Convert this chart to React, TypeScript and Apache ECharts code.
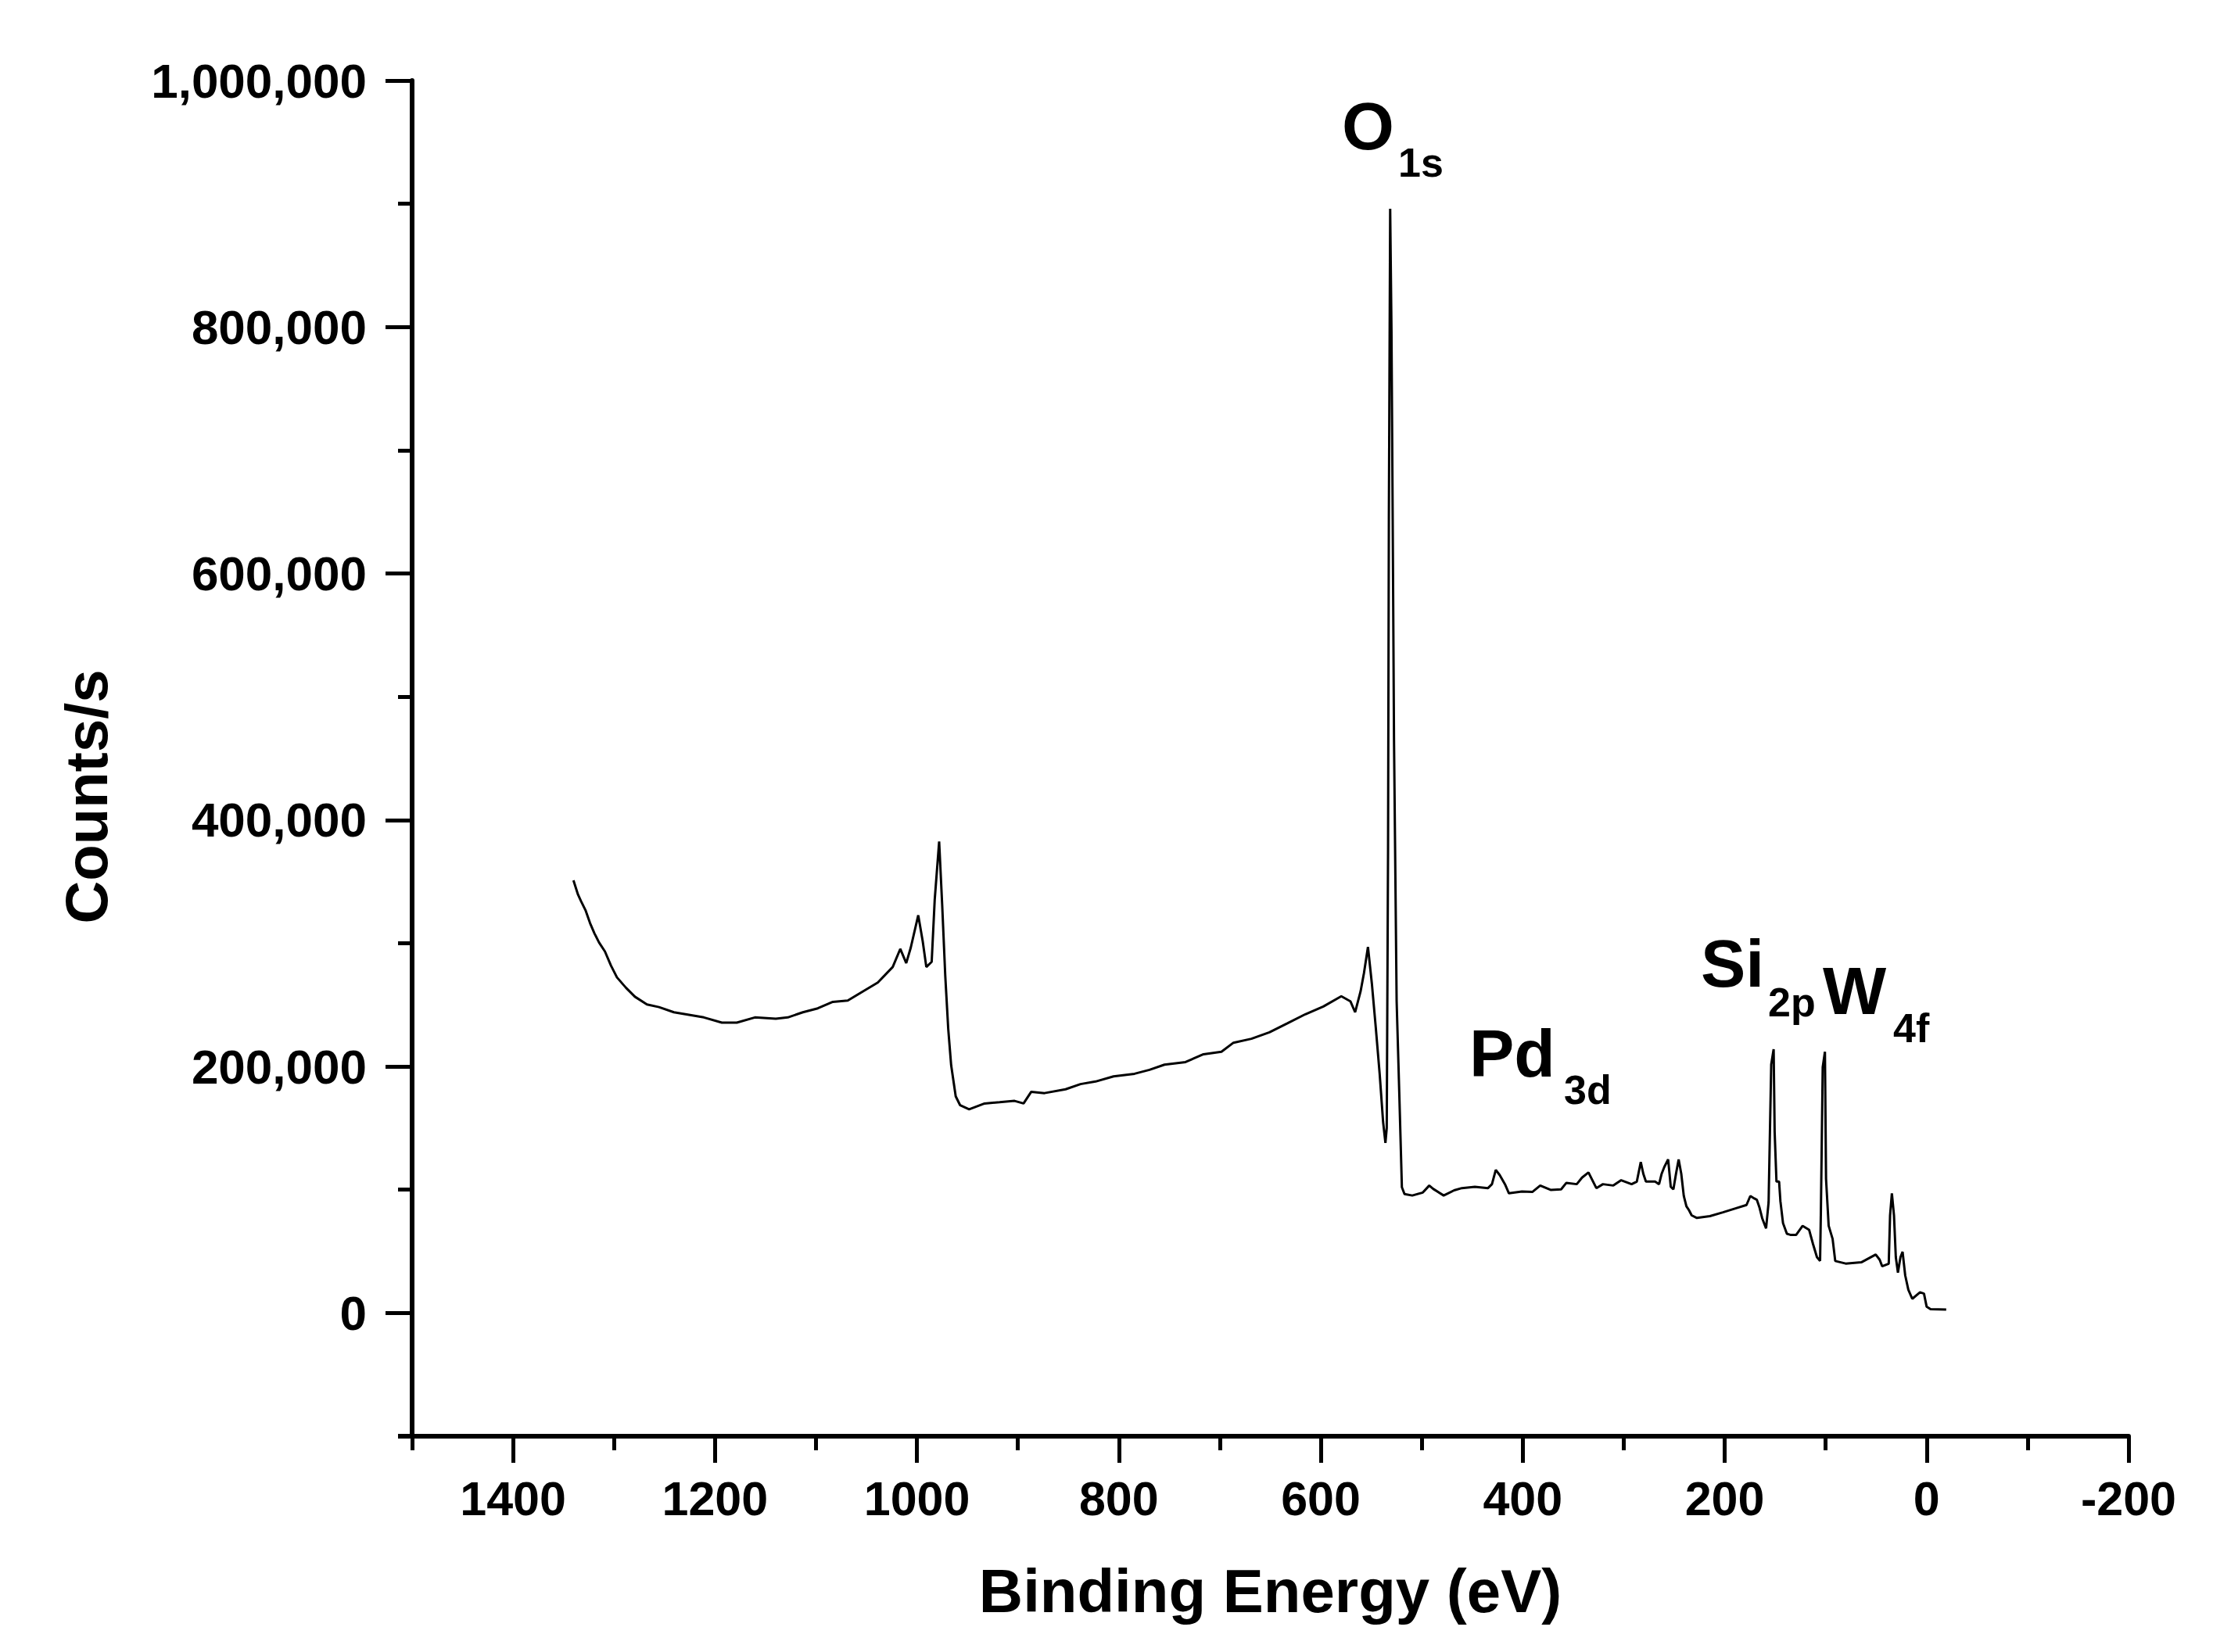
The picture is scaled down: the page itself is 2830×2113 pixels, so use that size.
import React, { useEffect, useRef } from "react";
import * as echarts from "echarts";

// Binding energy (eV) and count rate (counts/s)
const energy = [
  1340.2, 1335.7, 1332.7, 1328.3, 1323.8, 1319.4, 1314.9, 1309, 1303, 1297.1,
  1288.2, 1279.3, 1267.4, 1255.5, 1240.7, 1225.8, 1211, 1193.2, 1178.4, 1160.5,
  1139.8, 1127.9, 1113, 1098.2, 1083.3, 1068.5, 1053.7, 1038.8, 1024, 1016.5,
  1010.6, 1006.1, 998.7, 994.3, 990.7, 985.4, 982.4, 978, 975, 972,
  969, 966.1, 961.6, 957.2, 948.3, 933, 918.1, 903.3, 894.4, 886.9,
  873.6, 852.8, 838, 823.1, 805.3, 784.5, 769.7, 754.8, 734, 716.2,
  698.4, 686.5, 668.7, 650.9, 633.1, 615.3, 597.5, 579.7, 570.7, 566,
  560.6, 557.2, 553.3, 549.4, 545.6, 541.7, 538.3, 536, 534.7, 533.4,
  532.6, 531.3, 530, 528.8, 527.5, 524.9, 522.3, 519.7, 517.1, 509.4,
  499, 492.6, 488.7, 478.3, 468, 460.3, 447.4, 434.4, 430.5, 426.7,
  422.8, 417.6, 413.7, 400.8, 390.5, 382.7, 372.4, 362, 356.8, 346.5,
  341.3, 334.9, 331, 327.1, 320.6, 310.3, 302.5, 292.2, 287, 283.1,
  280.6, 278, 268.9, 265, 262.4, 259.9, 256, 253.4, 250.8, 248.2,
  245.6, 243, 240.5, 237.9, 235.3, 232.7, 227.5, 214.6, 201.7, 188.7,
  178.4, 174.6, 170.6, 168.1, 165.5, 162.9, 159, 156.5, 153.9, 151.5,
  150.5, 148.7, 146.1, 144.8, 142.2, 138.4, 134.5, 129.3, 122.8, 116.4,
  112.5, 108.6, 105.5, 104.7, 102.9, 100.7, 99.6, 97, 93.1, 90.5,
  80.2, 64.7, 50.4, 46.5, 44, 37.5, 36.2, 34.4, 32.3, 30.5,
  28.4, 25.9, 23.8, 21.2, 18.1, 14.2, 6.5, 2.6, 0, -3.9,
  -19.4,
];

const counts = [
  351000, 339500, 334200, 326900, 316400, 308000, 300700, 293300, 281800, 272300,
  263900, 256600, 250300, 248200, 244000, 241900, 239800, 235600, 235600, 239800,
  238800, 239800, 244000, 247200, 252400, 253500, 260800, 268100, 280700, 295400,
  283900, 296500, 322700, 301700, 280700, 284900, 335300, 382500, 331100, 274400,
  230400, 201000, 175800, 168500, 165300, 170000, 171000, 172100, 170000, 179400,
  178400, 181500, 185700, 187800, 192000, 194100, 197300, 201500, 203600, 209900,
  212000, 219300, 222500, 227700, 235000, 242400, 248700, 257000, 252900, 244000,
  261000, 276000, 297000, 267000, 232000, 194000, 155000, 138000, 150000, 376000,
  644000, 896000, 797000, 644000, 465000, 253000, 179000, 102000, 96500, 95300,
  97700, 103400, 100700, 95300, 99500, 101300, 102400, 101300, 104500, 116100,
  111900, 104500, 97100, 98600, 98200, 103400, 99900, 100300, 105600, 104500,
  109800, 114000, 107700, 101300, 104500, 103400, 107700, 104500, 106600, 122500,
  113000, 106600, 106600, 104500, 113000, 118200, 124600, 102400, 100300, 113000,
  124600, 113000, 95000, 86600, 83300, 79200, 77100, 78600, 81700, 85000,
  87600, 94900, 92900, 91800, 85500, 77000, 68600, 89700, 201600, 214000,
  146700, 106600, 106600, 90700, 72800, 64300, 63300, 63300, 70700, 67500,
  55900, 45300, 42200, 83300, 199500, 212000, 108700, 70700, 60100, 42200,
  40100, 41100, 47400, 43200, 37900, 40000, 79100, 97100, 79100, 45300,
  32700, 45300, 49600, 30500, 18900, 11500, 16800, 15700, 5200, 3100,
  2700,
];

// Axis ticks and labels
const xMajorTicks = [1400, 1200, 1000, 800, 600, 400, 200, 0, -200];
const xMinorTicks = [1500, 1300, 1100, 900, 700, 500, 300, 100, -100];
const yMajorTicks = [0, 200000, 400000, 600000, 800000, 1000000];
const yMinorTicks = [100000, 300000, 500000, 700000, 900000];

// Peak annotations: element symbol and orbital subscript
const peakLabels = ["O", "Pd", "Si", "W"];
const peakOrbitals = ["1s", "3d", "2p", "4f"];

const FONT = "'Liberation Sans', Arial, sans-serif";

export default function App() {
  const ref = useRef<HTMLDivElement>(null);

  useEffect(() => {
    if (!ref.current) return;
    const chart = echarts.init(ref.current, undefined, { renderer: "svg" });

    const data = energy.map((e, i) => [e, counts[i]]);

    const gridLeft = 527;
    const gridTop = 103;
    const gridWidth = 2195;
    const gridHeight = 1734;

    // layout of annotation labels (pixel positions of main text and subscript)
    const mainPos = [
      [1716, 161],
      [1879, 1347],
      [2175, 1232],
      [2331, 1267],
    ];
    const subPos = [
      [1788, 208],
      [2000, 1394],
      [2261, 1282],
      [2421, 1315],
    ];

    const graphics: any[] = [];
    peakLabels.forEach((lab, i) => {
      graphics.push({
        type: "text",
        x: mainPos[i][0],
        y: mainPos[i][1],
        style: {
          text: lab,
          fontSize: 86,
          fontWeight: "bold",
          fontFamily: FONT,
          fill: "#000",
          align: "left",
          verticalAlign: "middle",
        },
      });
      graphics.push({
        type: "text",
        x: subPos[i][0],
        y: subPos[i][1],
        style: {
          text: peakOrbitals[i],
          fontSize: 52,
          fontWeight: "bold",
          fontFamily: FONT,
          fill: "#000",
          align: "left",
          verticalAlign: "middle",
        },
      });
    });

    graphics.push({
      type: "text",
      x: 110,
      y: 1019,
      rotation: Math.PI / 2,
      style: {
        text: "Counts/s",
        fontSize: 76,
        fontWeight: "bold",
        fontFamily: FONT,
        fill: "#000",
        align: "center",
        verticalAlign: "middle",
      },
    });

    // small overhang of the x axis line to the left of the y axis
    graphics.push({
      type: "line",
      shape: { x1: gridLeft - 18, y1: gridTop + gridHeight, x2: gridLeft, y2: gridTop + gridHeight },
      style: { stroke: "#000", lineWidth: 6 },
    });

    const xBase = {
      type: "value" as const,
      min: -200,
      max: 1500,
      inverse: true,
      position: "bottom" as const,
      splitLine: { show: false },
    };
    const yBase = {
      type: "value" as const,
      min: -100000,
      max: 1000000,
      position: "left" as const,
      splitLine: { show: false },
    };

    chart.setOption({
      animation: false,
      backgroundColor: "#fff",
      grid: { left: gridLeft, top: gridTop, width: gridWidth, height: gridHeight, containLabel: false },
      xAxis: [
        {
          ...xBase,
          axisLine: { show: true, onZero: false, lineStyle: { color: "#000", width: 6 } },
          axisTick: {
            show: true,
            inside: false,
            length: 34,
            customValues: xMajorTicks,
            lineStyle: { color: "#000", width: 5 },
          },
          axisLabel: {
            show: true,
            customValues: xMajorTicks,
            margin: 49,
            fontSize: 61,
            fontWeight: "bold",
            fontFamily: FONT,
            color: "#000",
            formatter: (v: number) => String(v),
          },
          name: "Binding Energy (eV)",
          nameLocation: "middle",
          nameGap: 159,
          nameTextStyle: {
            fontSize: 78,
            fontWeight: "bold",
            fontFamily: FONT,
            color: "#000",
          },
        },
        {
          ...xBase,
          axisLine: { show: false, onZero: false },
          axisTick: {
            show: true,
            inside: false,
            length: 18,
            customValues: xMinorTicks,
            lineStyle: { color: "#000", width: 5 },
          },
          axisLabel: { show: false },
        },
      ],
      yAxis: [
        {
          ...yBase,
          axisLine: { show: true, onZero: false, lineStyle: { color: "#000", width: 6 } },
          axisTick: {
            show: true,
            inside: false,
            length: 34,
            customValues: yMajorTicks,
            lineStyle: { color: "#000", width: 5 },
          },
          axisLabel: {
            show: true,
            customValues: yMajorTicks,
            margin: 58,
            fontSize: 62,
            fontWeight: "bold",
            fontFamily: FONT,
            color: "#000",
            padding: [0, 0, 15, 0],
            formatter: (v: number) => v.toLocaleString("en-US"),
          },
        },
        {
          ...yBase,
          axisLine: { show: false, onZero: false },
          axisTick: {
            show: true,
            inside: false,
            length: 18,
            customValues: yMinorTicks,
            lineStyle: { color: "#000", width: 5 },
          },
          axisLabel: { show: false },
        },
      ],
      series: [
        {
          type: "line",
          xAxisIndex: 0,
          yAxisIndex: 0,
          data,
          showSymbol: false,
          symbol: "none",
          lineStyle: { color: "#000", width: 3 },
          itemStyle: { color: "#000" },
        },
      ],
      graphic: graphics,
    });

    return () => chart.dispose();
  }, []);

  return (
    <div
      ref={ref}
      style={{ position: "absolute", left: 0, top: 0, width: 2830, height: 2113, background: "#fff" }}
    />
  );
}
